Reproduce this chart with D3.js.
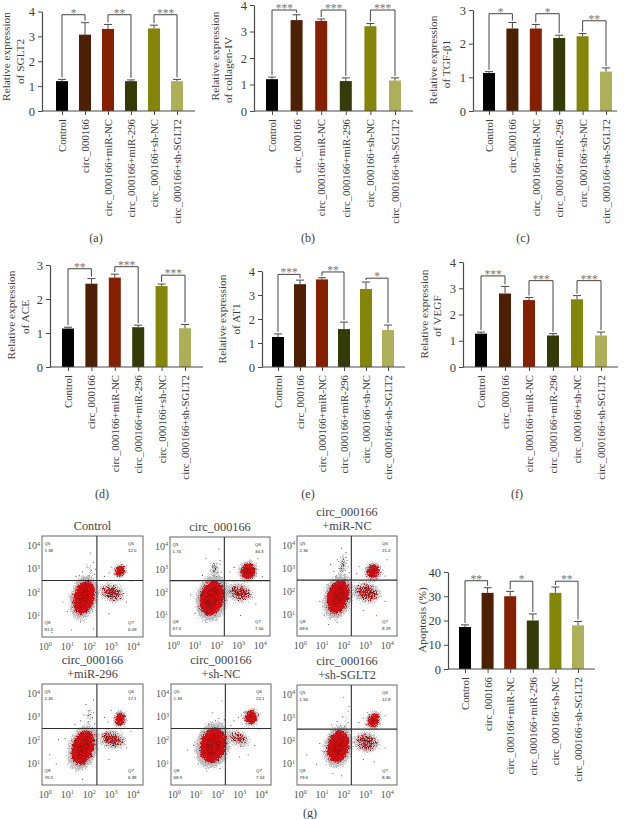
<!DOCTYPE html>
<html><head><meta charset="utf-8">
<script src="https://cdn.jsdelivr.net/npm/d3@7/dist/d3.min.js"></script>
<style>html,body{margin:0;padding:0;background:#fff}svg{display:block}text{font-family:"Liberation Serif",serif;fill:#3c3c3c}</style>
</head><body><div id="c"></div>
<script>
const categories=["Control","circ_000166","circ_000166+miR-NC","circ_000166+miR-296","circ_000166+sh-NC","circ_000166+sh-SGLT2"];
const barColors=["#000000","#4d2005","#862003","#343a08","#838608","#adb058"];
const sglt2Values=[1.2,3.07,3.3,1.2,3.32,1.2], sglt2Upper=[1.27,3.55,3.48,1.25,3.45,1.27];
const collagenValues=[1.2,3.43,3.4,1.13,3.2,1.15], collagenUpper=[1.28,3.63,3.47,1.25,3.3,1.25];
const tgfValues=[1.13,2.45,2.45,2.17,2.22,1.17], tgfUpper=[1.17,2.63,2.57,2.25,2.3,1.28];
const aceValues=[1.13,2.45,2.63,1.17,2.38,1.14], aceUpper=[1.17,2.6,2.73,1.23,2.44,1.25];
const at1Values=[1.25,3.45,3.65,1.58,3.25,1.54], at1Upper=[1.38,3.62,3.72,1.87,3.54,1.75];
const vegfValues=[1.27,2.8,2.55,1.2,2.58,1.2], vegfUpper=[1.33,3.07,2.65,1.27,2.72,1.33];
const apoptosisValues=[17.3,31.4,30,20,31.4,18], apoptosisUpper=[18.2,33.5,32,22.7,33.8,19.6];
const sglt2Sig=[[0,1,"*",3.87],[2,3,"**",3.87],[4,5,"***",3.87]];
const collagenSig=[[0,1,"***",3.81],[2,3,"***",3.81],[4,5,"***",3.81]];
const tgfSig=[[0,1,"*",2.89],[2,3,"*",2.89],[4,5,"**",2.68]];
const aceSig=[[0,1,"**",2.89],[2,3,"***",2.95],[4,5,"***",2.7]];
const at1Sig=[[0,1,"***",3.86],[2,3,"**",3.96],[4,5,"*",3.7]];
const vegfSig=[[0,1,"***",3.47],[2,3,"***",3.29],[4,5,"***",3.29]];
const apoptosisSig=[[0,1,"**",36.4],[2,3,"*",36.2],[4,5,"**",36.2]];

const flowTitles=[["Control"],["circ_000166"],["circ_000166","+miR-NC"],["circ_000166","+miR-296"],["circ_000166","+sh-NC"],["circ_000166","+sh-SGLT2"]];
const flowQ5=["1.38","1.74","2.36","2.45","1.33","1.56"];
const flowQ6=["12.0","34.3","21.4","17.1","22.1","12.8"];
const flowQ7=["6.09","7.00","8.29","6.98","7.53","8.36"];
const flowQ8=["81.5","67.0","69.6","76.5","68.9","79.6"];
const flowTicks=[0,1,2,3,4];
// cx, cy (log10 units), rx, ry (log10 units), tilt (degrees)
const flowMain=[[1.76,1.8,.5,.78,14],[1.78,1.76,.58,.82,14],[1.74,1.8,.52,.8,16],[1.72,1.7,.52,.8,18],[1.78,1.8,.62,.8,14],[1.75,1.77,.52,.74,12]];
const flowUpper=[[3.4,2.93,.28,.3,20],[3.44,2.94,.38,.4,20],[3.35,2.9,.34,.36,20],[3.4,2.93,.27,.36,10],[3.53,3.0,.32,.36,15],[3.37,2.9,.3,.38,25]];
const flowCloud=[[3.05,2.0,.72,.5,20],[3.05,2.0,.75,.52,15],[3.05,1.98,.78,.55,15],[3.05,2.05,.75,.5,15],[2.95,2.1,.72,.42,25],[3.05,1.95,.72,.55,15]];
const flowTail=[[2.0,3.0,.22,.5,5],[1.9,3.0,.35,.55,5],[1.95,3.2,.3,.75,5],[2.0,3.05,.25,.6,5],[2.0,2.85,.22,.35,5],[2.05,3.0,.22,.55,5]];
const flowStray=[
 [[2.05,3.7],[2.2,3.3],[1.9,3.1],[2.1,2.95],[1.7,2.9],[2.25,2.8],[2.0,2.75],[1.55,2.75],[2.9,2.85],[2.7,2.7],[3.0,3.1],[3.9,2.5],[0.3,.3],[1.2,.4],[2.2,.45],[1.0,1.2],[.8,1.6],[2.9,1.1],[1.6,.75],[3.7,1.6],[1.4,2.7],[2.3,3.0]],
 [[1.5,3.5],[1.9,3.2],[2.1,3.9],[1.7,2.95],[2.2,2.9],[1.35,2.75],[2.0,2.7],[2.15,3.4],[2.6,2.9],[2.8,3.1],[3.9,3.5],[4.1,2.7],[1.0,1.1],[.8,1.9],[1.5,.7],[2.0,.8],[3.1,1.0],[3.8,1.5],[2.2,1.2],[1.9,2.95],[2.25,2.65]],
 [[1.9,3.9],[2.1,3.5],[1.7,3.4],[2.0,3.2],[1.85,3.0],[2.2,3.1],[1.55,2.9],[2.25,2.85],[1.4,3.2],[2.05,2.75],[1.65,2.7],[2.7,3.1],[2.6,2.8],[3.9,2.7],[4.0,3.4],[.9,1.6],[1.1,1.0],[1.3,.6],[1.7,.7],[3.5,1.0],[2.9,1.2],[3.9,1.6],[2.1,3.7]],
 [[1.85,3.55],[2.2,3.75],[2.0,3.3],[1.75,3.1],[2.15,3.0],[1.6,2.85],[1.95,2.8],[2.25,2.75],[1.35,2.7],[2.7,3.0],[2.85,2.8],[3.0,3.3],[.6,2.05],[.9,2.1],[1.2,2.0],[.2,1.4],[.5,1.0],[1.7,.35],[1.4,.7],[3.7,1.7],[3.9,2.4],[2.9,1.2],[2.2,3.2]],
 [[1.9,2.85],[2.2,2.75],[1.6,2.7],[2.05,2.95],[1.75,3.2],[2.2,3.7],[2.75,2.85],[2.95,3.0],[2.6,2.65],[3.1,3.1],[3.9,2.5],[.9,1.8],[.6,1.6],[1.1,1.0],[1.5,.7],[2.1,.8],[3.0,1.3],[3.7,1.8],[3.4,1.4],[2.3,2.9]],
 [[2.0,3.9],[2.2,3.3],[1.95,3.05],[1.7,2.85],[2.2,2.8],[1.45,2.7],[2.05,2.65],[2.7,2.8],[2.9,3.0],[3.1,3.25],[3.9,3.1],[.75,1.0],[1.1,1.55],[.9,1.9],[.3,1.4],[1.5,.6],[1.9,.5],[3.4,1.1],[3.9,1.7],[2.9,1.2],[2.25,3.5]]
];

const W=624,H=819;
const svg=d3.select("#c").append("svg").attr("width",W).attr("height",H);
const defs=svg.append("defs");
function speck(id,color,blur,seed,gain,freq,k4){
  const f=defs.append("filter").attr("id",id).attr("x","-80%").attr("y","-80%").attr("width","260%").attr("height","260%").attr("color-interpolation-filters","sRGB");
  f.append("feGaussianBlur").attr("in","SourceAlpha").attr("stdDeviation",blur).attr("result","b");
  f.append("feTurbulence").attr("type","fractalNoise").attr("baseFrequency",freq).attr("numOctaves",1).attr("seed",seed).attr("result","n");
  f.append("feColorMatrix").attr("in","n").attr("type","matrix").attr("values","0 0 0 0 0  0 0 0 0 0  0 0 0 0 0  0 0 0 1 0").attr("result","na");
  f.append("feComposite").attr("in","b").attr("in2","na").attr("operator","arithmetic").attr("k1",0).attr("k2",1).attr("k3",1).attr("k4",k4).attr("result","s");
  f.append("feComponentTransfer").attr("in","s").attr("result","t").append("feFuncA").attr("type","linear").attr("slope",gain);
  f.append("feFlood").attr("flood-color",color).attr("result","fl");
  f.append("feComposite").attr("in","fl").attr("in2","t").attr("operator","in");
}
speck("spGray","#bcbcbc",4.5,3,5,1.5,-1.0);
speck("spDark","#5a1012",4,7,6,1.6,-1.2);
speck("spRed","#cf1016",3.4,11,7,1.5,-1.0);
speck("cloudGray","#c4c4c4",5,5,5,1.5,-1.15);
speck("cloudDark","#4a1416",5,9,7,1.6,-1.42);
speck("cloudRed","#c8141a",5,13,7,1.5,-1.4);
speck("tailDark","#4a3030",4,17,7,1.6,-1.38);
speck("coreTex","#9c0b10",2,21,6,1.5,-1.42);
const soft=defs.append("filter").attr("id","soft").attr("x","-50%").attr("y","-50%").attr("width","200%").attr("height","200%");
soft.append("feGaussianBlur").attr("stdDeviation",1.8);
const tiny=defs.append("filter").attr("id","tiny").attr("x","0").attr("y","0").attr("width","100%").attr("height","100%");
tiny.append("feGaussianBlur").attr("stdDeviation",.35);

function barPanel(o){
  const x=d3.scalePoint().domain(categories).range([o.x0,o.x1]);
  const y=d3.scaleLinear().domain([0,o.max]).range([o.y0,o.yTop]);
  const g=svg.append("g");
  const bw=12;
  g.selectAll("rect.b").data(categories).join("rect").attr("x",c=>x(c)-bw/2).attr("width",bw)
    .attr("y",(c,i)=>y(o.values[i])).attr("height",(c,i)=>o.y0-y(o.values[i])).attr("fill",(c,i)=>barColors[i]);
  const eb=g.selectAll("g.e").data(categories).join("g").attr("stroke","#4a4a4a").attr("stroke-width",1);
  eb.append("line").attr("x1",c=>x(c)).attr("x2",c=>x(c)).attr("y1",(c,i)=>y(o.values[i])).attr("y2",(c,i)=>y(o.upper[i]));
  eb.append("line").attr("x1",c=>x(c)-4).attr("x2",c=>x(c)+4).attr("y1",(c,i)=>y(o.upper[i])).attr("y2",(c,i)=>y(o.upper[i]));
  const ax=g.append("g").attr("transform",`translate(0,${o.y0})`).call(d3.axisBottom(x).tickSize(4).tickPadding(3));
  ax.select(".domain").remove();
  ax.append("line").attr("x1",o.ax).attr("x2",o.right).attr("stroke","#4a4a4a").attr("stroke-width",1.2);
  ax.selectAll(".tick line").attr("stroke","#4a4a4a").attr("stroke-width",1);
  ax.selectAll(".tick text").attr("transform","rotate(-90)").attr("x",-8).attr("y",0).attr("dy","0.33em").attr("text-anchor","end")
    .style("font-family",'"Liberation Serif",serif').style("font-size","10.8px").style("fill","#3c3c3c");
  const ay=g.append("g").attr("transform",`translate(${o.ax},0)`).call(d3.axisLeft(y).tickValues(o.tv||d3.range(0,o.max+1)).tickFormat(d3.format("d")).tickSize(4).tickPadding(3).tickSizeOuter(0));
  ay.select(".domain").attr("stroke","#4a4a4a").attr("stroke-width",1.2);
  ay.selectAll(".tick line").attr("stroke","#4a4a4a").attr("stroke-width",1);
  ay.selectAll(".tick text").style("font-family",'"Liberation Serif",serif').style("font-size","12.5px").style("fill","#3c3c3c");
  o.sig.forEach(([a,b,s,top])=>{
    const xa=x(categories[a]),xb=x(categories[b]),yt=y(top);
    g.append("path").attr("fill","none").attr("stroke","#444").attr("stroke-width",1)
      .attr("d",`M${xa},${y(o.upper[a])-2}V${yt}H${xb}V${y(o.upper[b])-2}`);
    g.append("text").attr("x",(xa+xb)/2).attr("y",yt+2).attr("text-anchor","middle").style("font-size","11.5px").style("fill","#777").text(s);
  });
  o.labels.forEach(([t,lx,ly])=>{
    g.append("text").attr("transform",`translate(${lx},${ly}) rotate(-90)`).attr("text-anchor","middle").attr("dy","0.33em").style("font-size","11.3px").text(t);
  });
}
barPanel({values:sglt2Values,upper:sglt2Upper,sig:sglt2Sig,max:4,x0:62,x1:177,y0:111,yTop:11.5,ax:42,right:195,labels:[["Relative expression",6,56.5],["of SGLT2",20,61.5]]});
barPanel({values:collagenValues,upper:collagenUpper,sig:collagenSig,max:4,x0:272,x1:395,y0:111,yTop:5,ax:254,right:413,labels:[["Relative expression",215,56],["of collagen-IV",228,70]]});
barPanel({values:tgfValues,upper:tgfUpper,sig:tgfSig,max:3,x0:489,x1:606,y0:111,yTop:10,ax:473,right:617,labels:[["Relative expression",433,60],["of TGF-β1",446,64]]});
barPanel({values:aceValues,upper:aceUpper,sig:aceSig,max:3,x0:68,x1:185,y0:367,yTop:265,ax:50,right:203,labels:[["Relative expression",11,315],["of ACE",25,317]]});
barPanel({values:at1Values,upper:at1Upper,sig:at1Sig,max:4,x0:278,x1:388,y0:367,yTop:271,ax:262,right:405,labels:[["Relative expression",222,319],["of AT1",236,319]]});
barPanel({values:vegfValues,upper:vegfUpper,sig:vegfSig,max:4,x0:481,x1:601,y0:367,yTop:262,ax:463,right:618,labels:[["Relative expression",424,314],["of VEGF",437,316]]});
barPanel({values:apoptosisValues,upper:apoptosisUpper,sig:apoptosisSig,max:40,tv:[0,10,20,30,40],x0:465,x1:578,y0:669,yTop:572,ax:448,right:595,labels:[["Apoptosis (%)",422,620]]});

// flow cytometry plots
const flowBoxes=[[42,143,536,637],[170,270,537,636],[297,397,536,636],[42,143,684,785],[171,271,684,785],[297,397,685,785]];
const gateX=2.35,gateY=2.52;
flowBoxes.forEach(([l,r,t,b],i)=>{
  const x=d3.scaleLinear().domain([-.15,4.45]).range([l,r]);
  const y=d3.scaleLinear().domain([.1,4.43]).range([b,t]);
  const cid="clip"+i;
  defs.append("clipPath").attr("id",cid).append("rect").attr("x",l).attr("y",t).attr("width",r-l).attr("height",b-t);
  const g=svg.append("g");
  const plot=g.append("g").attr("clip-path",`url(#${cid})`).append("g").attr("filter","url(#tiny)");
  plot.append("rect").attr("x",l).attr("y",t).attr("width",r-l).attr("height",b-t).attr("fill","#fff");
  const ell=(p,c,k)=>p.append("ellipse").attr("cx",0).attr("cy",0)
    .attr("rx",(x(c[2])-x(0))*k).attr("ry",(y(0)-y(c[3]))*k)
    .attr("transform",`translate(${x(c[0])},${y(c[1])}) rotate(${c[4]})`);
  const layer=(c,k,f)=>{const w=plot.append("g").attr("filter",`url(#${f})`);ell(w,c,k);};
  const cloud=flowCloud[i], tail=flowTail[i];
  layer(cloud,1.05,"cloudGray"); layer(tail,1,"cloudGray");
  layer(cloud,1,"cloudDark"); layer(cloud,1,"cloudRed"); layer(tail,1,"tailDark");
  [flowMain[i],flowUpper[i]].forEach((c,j)=>{
    layer(c,1.35,"spGray");
    layer(c,1.12,"spDark");
    layer(c,1.0,"spRed");
    const s=plot.append("g").attr("filter","url(#soft)");
    ell(s,c,j?.5:.62).attr("fill","#d8090e");
    layer(c,.8,"coreTex");
  });
  plot.selectAll("circle").data(flowStray[i]).join("circle").attr("cx",d=>x(d[0])).attr("cy",d=>y(d[1])).attr("r",.55).attr("fill","#444");
  g.append("rect").attr("x",l).attr("y",t).attr("width",r-l).attr("height",b-t).attr("fill","none").attr("stroke","#666").attr("stroke-width",1);
  g.append("line").attr("x1",x(gateX)).attr("x2",x(gateX)).attr("y1",t).attr("y2",b).attr("stroke","#2e2e2e").attr("stroke-width",1.1);
  g.append("line").attr("x1",l).attr("x2",r).attr("y1",y(gateY)).attr("y2",y(gateY)).attr("stroke","#2e2e2e").attr("stroke-width",1.1);
  const q=(lab,val,px,py)=>{
    [[lab,py],[val,py+7]].forEach(([s,yy])=>g.append("text").attr("x",px).attr("y",yy).style("font-family",'"Liberation Sans",sans-serif').style("font-size","4.4px").style("fill","#222").text(s));
  };
  q("Q5",flowQ5[i],l+2.5,t+9); q("Q6",flowQ6[i],r-15,t+9);
  q("Q8",flowQ8[i],l+2.5,b-13); q("Q7",flowQ7[i],r-15,b-13);
  const ten=(sel,d,fs)=>{sel.append("tspan").text("10");sel.append("tspan").attr("dy",-3.5).style("font-size",(fs*.62)+"px").text(d);};
  g.selectAll("text.xt").data(flowTicks).join("text").attr("class","xt").attr("x",d=>x(d)).attr("y",b+12.5).attr("text-anchor","middle")
    .style("font-size","10px").style("fill","#555").each(function(d){ten(d3.select(this),d,10);});
  g.selectAll("text.yt").data(flowTicks.slice(1)).join("text").attr("class","yt").attr("x",l-2).attr("y",d=>y(d)+3).attr("text-anchor","end")
    .style("font-size","10px").style("fill","#555").each(function(d){ten(d3.select(this),d,10);});
  const ts=flowTitles[i], cx=(l+r)/2;
  ts.forEach((tx,k)=>{
    g.append("text").attr("x",cx).attr("y",t-6-(ts.length-1-k)*14).attr("text-anchor","middle").style("font-size","12.3px").style("fill","#444").text(tx);
  });
});
[["(a)",96,238],["(b)",308,238],["(c)",523,238],["(d)",102,494],["(e)",308,494],["(f)",517,494],["(g)",310,813]].forEach(([t,x,y])=>{
  svg.append("text").attr("x",x).attr("y",y).attr("text-anchor","middle").attr("dy","0.33em").style("font-size","12px").text(t);
});
</script></body></html>
